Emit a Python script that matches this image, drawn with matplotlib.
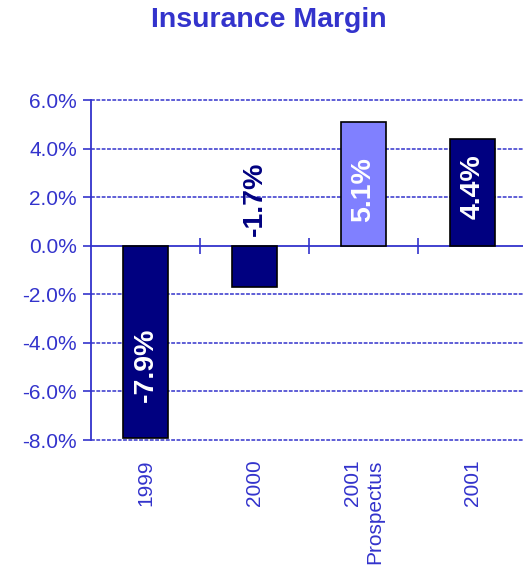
import matplotlib.pyplot as plt
from matplotlib.ticker import FuncFormatter

plt.rcParams['font.family'] = ['Liberation Sans', 'DejaVu Sans']

# data
categories = ['1999', '2000', '2001\nProspectus', '2001']
margins = [-7.9, -1.7, 5.1, 4.4]
bar_labels = ['-7.9%', '-1.7%', '5.1%', '4.4%']
bar_colors = ['#000080', '#000080', '#8080FF', '#000080']
label_colors = ['white', '#000080', 'white', 'white']
label_y = [-4.9, 1.95, 2.3, 2.45]  # where the value text sits

blue = '#3333CC'

fig = plt.figure(figsize=(5.23, 5.73), dpi=100)
ax = fig.add_axes([91 / 523, 1 - 440 / 573, 436 / 523, 340 / 573])

x = range(len(categories))
ax.bar(x, margins, width=0.41, color=bar_colors, edgecolor='black',
       linewidth=1.2, zorder=3)

for i in x:
    ax.text(i, label_y[i], bar_labels[i], rotation=90, ha='center', va='center',
            fontsize=20.5, fontweight='bold', color=label_colors[i], zorder=4)

ax.set_xlim(-0.5, 3.5)
ax.set_ylim(-8, 6)
ax.set_yticks([-8, -6, -4, -2, 0, 2, 4, 6])
ax.yaxis.set_major_formatter(FuncFormatter(lambda v, p: f'{v:.1f}%'))
ax.tick_params(axis='y', colors=blue, labelsize=15, length=6, width=1.2,
               direction='out', pad=4)

# dashed gridlines
for v in [-8, -6, -4, -2, 2, 4, 6]:
    ax.axhline(v, color=blue, linestyle=(0, (2.5, 1)), linewidth=1.1, zorder=1,
               clip_on=False)

# category labels at the bottom
ax.set_xticks(list(x))
ax.set_xticklabels(categories, rotation=90, ha='center', va='top',
                   multialignment='right')
ax.tick_params(axis='x', length=0, colors=blue, labelsize=15, pad=14)

for s in ['top', 'right', 'bottom']:
    ax.spines[s].set_visible(False)
ax.spines['left'].set_color(blue)
ax.spines['left'].set_linewidth(1.3)

# x axis line at zero with ticks between categories
zero_ax = ax.secondary_xaxis(8 / 14)
for s in zero_ax.spines.values():
    s.set_color(blue)
    s.set_linewidth(1.3)
zero_ax.set_xticks([0.5, 1.5, 2.5])
zero_ax.set_xticklabels([])
zero_ax.tick_params(axis='x', direction='inout', length=11, width=1.2, colors=blue)

fig.text(269 / 523, 1 - 20 / 573, 'Insurance Margin', ha='center', va='center',
         fontsize=20.5, fontweight='bold', color=blue)

fig.savefig('out.png', dpi=100)
